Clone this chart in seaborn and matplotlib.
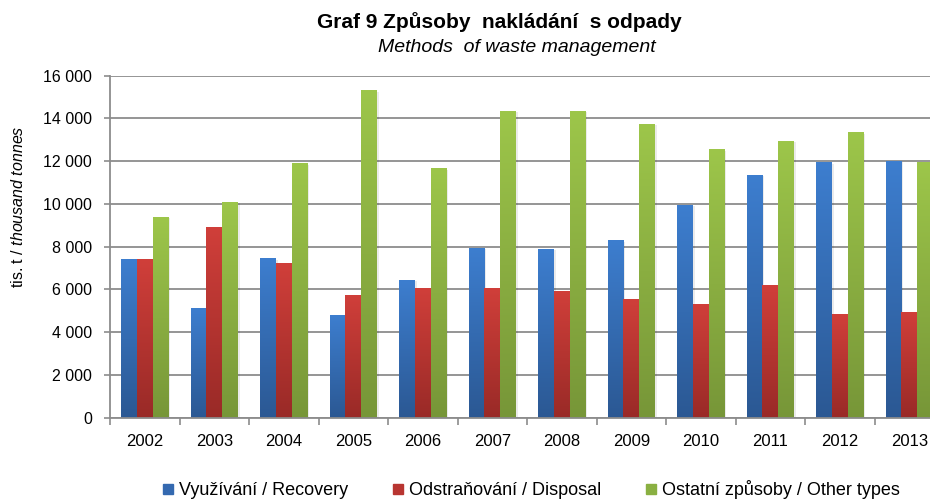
import numpy as np
import pandas as pd
import matplotlib
matplotlib.use("Agg")
import matplotlib.pyplot as plt
import seaborn as sns
from matplotlib.colors import LinearSegmentedColormap
from matplotlib.lines import Line2D
from matplotlib.ticker import FuncFormatter, FixedLocator, NullFormatter

years = ["2002", "2003", "2004", "2005", "2006", "2007", "2008", "2009", "2010", "2011", "2012", "2013"]
recovery = [7400, 5100, 7450, 4800, 6450, 7950, 7900, 8300, 9950, 11350, 11950, 12000]
disposal = [7400, 8900, 7250, 5750, 6050, 6050, 5900, 5550, 5330, 6200, 4850, 4950]
other = [9400, 10100, 11900, 15300, 11650, 14350, 14350, 13750, 12550, 12950, 13350, 11950]
series_names = ["Využívání / Recovery", "Odstraňování / Disposal", "Ostatní způsoby / Other types"]
yticks = [0, 2000, 4000, 6000, 8000, 10000, 12000, 14000, 16000]

title = "Graf 9 Způsoby  nakládání  s odpady"
subtitle = "Methods  of waste management"
ylabel = r"tis. t / $\mathit{thousand\ tonnes}$"

top_cols = ["#3D7ECF", "#D03F3A", "#9DC64A"]
bot_cols = ["#2B5893", "#992A27", "#779638"]
mid_cols = ["#3469B0", "#B83531", "#8AB042"]

sns.set_theme(style="white")
plt.rcParams["font.family"] = ["Liberation Sans", "DejaVu Sans"]
plt.rcParams["text.color"] = "black"
plt.rcParams["axes.labelcolor"] = "black"
plt.rcParams["xtick.color"] = "black"
plt.rcParams["ytick.color"] = "black"
plt.rcParams["mathtext.fontset"] = "custom"
plt.rcParams["mathtext.rm"] = "Liberation Sans"
plt.rcParams["mathtext.it"] = "Liberation Sans:italic"

df = pd.DataFrame({
    "year": years * 3,
    "value": recovery + disposal + other,
    "series": [series_names[0]] * 12 + [series_names[1]] * 12 + [series_names[2]] * 12,
})

fig = plt.figure(figsize=(9.3, 5.0), dpi=100)
ax = fig.add_axes([110 / 930, 1 - 417.7 / 500, 834 / 930, 342 / 500])

sns.barplot(data=df, x="year", y="value", hue="series", hue_order=series_names,
            palette=mid_cols, width=0.68, gap=0, ax=ax, legend=False,
            linewidth=0, saturation=1, errorbar=None)

ax.set_xlim(-0.5, 11.5)
ax.set_ylim(0, 16000)

# gradient fill for each bar
for i, cont in enumerate(ax.containers):
    cmap = LinearSegmentedColormap.from_list(f"g{i}", [bot_cols[i], top_cols[i]])
    grad = np.linspace(0, 1, 256).reshape(-1, 1)
    for bar in cont:
        x, y = bar.get_x(), bar.get_y()
        w, h = bar.get_width(), bar.get_height()
        # soft shadow
        ax.add_patch(plt.Rectangle((x + 0.03, y), w, h - 60, facecolor="#000000",
                                   alpha=0.08, linewidth=0, zorder=1.5))
        ax.imshow(grad, extent=[x, x + w, y, y + h], origin="lower", aspect="auto",
                  cmap=cmap, zorder=2, interpolation="bilinear")
        bar.set_visible(False)

ax.set_xlim(-0.5, 11.5)
ax.set_ylim(0, 16000)

# grid and axes styling
ax.set_axisbelow(True)
ax.yaxis.set_major_locator(FixedLocator(yticks))
ax.yaxis.grid(True, color="#8C8C8C", linewidth=1.3)
ax.xaxis.grid(False)
for s in ["top", "right"]:
    ax.spines[s].set_visible(False)
for s in ["left", "bottom"]:
    ax.spines[s].set_color("#8C8C8C")
    ax.spines[s].set_linewidth(1.3)

ax.yaxis.set_major_formatter(FuncFormatter(lambda v, p: f"{int(v):,}".replace(",", " ")))
ax.tick_params(axis="y", which="major", left=True, length=4, width=1.2, color="#8C8C8C",
               pad=9, labelsize=11.5, labelcolor="black")

ax.xaxis.set_major_locator(FixedLocator(np.arange(-0.5, 12, 1.0)))
ax.xaxis.set_major_formatter(NullFormatter())
ax.xaxis.set_minor_locator(FixedLocator(np.arange(12)))
ax.set_xticklabels(years, minor=True)
ax.tick_params(axis="x", which="major", bottom=True, length=5, width=1.2, color="#8C8C8C")
ax.tick_params(axis="x", which="minor", bottom=False, length=0, pad=12, labelsize=12, labelcolor="black")
ax.set_xlabel("")
ax.set_ylabel("")

fig.text(499 / 930, 1 - 22 / 500, title, ha="center", va="center", fontsize=15,
         fontweight="bold", color="black")
fig.text(517 / 930, 1 - 47 / 500, subtitle, ha="center", va="center", fontsize=14,
         fontstyle="italic", color="black")
fig.text(18 / 930, 1 - 207 / 500, ylabel, ha="center", va="center", rotation=90,
         fontsize=11.5, color="black")

# legend: one entry per series, placed at its own position
leg_x = [161, 391, 644]
for i, name in enumerate(series_names):
    h = Line2D([], [], marker="s", linestyle="none", markersize=7,
               markerfacecolor=mid_cols[i], markeredgecolor=mid_cols[i])
    lg = fig.legend([h], [name], loc="lower left", bbox_to_anchor=(leg_x[i] / 930, 1 - 499 / 500),
                    frameon=False, borderpad=0, borderaxespad=0, handlelength=0.8,
                    handletextpad=0.2, fontsize=13)
    for t in lg.get_texts():
        t.set_color("black")

fig.savefig("out.png", dpi=100)
